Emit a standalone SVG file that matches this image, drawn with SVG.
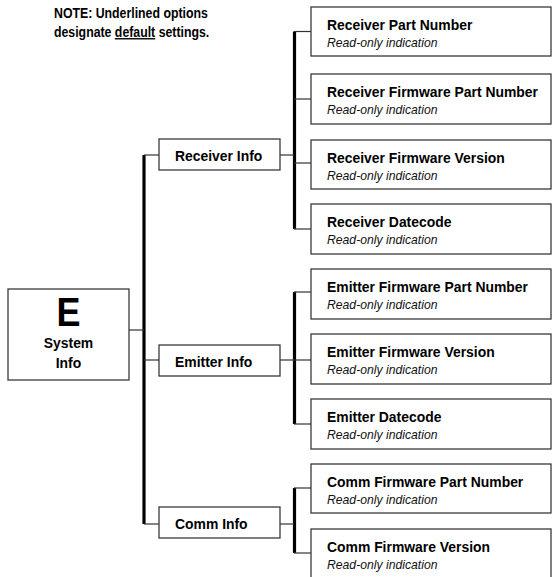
<svg xmlns="http://www.w3.org/2000/svg" width="555" height="577" viewBox="0 0 555 577">
<style>
.box{fill:#fff;stroke:#3a3a3a;stroke-width:1.3}
.bar{stroke:#000;stroke-width:3.2;fill:none}
.ln{stroke:#333;stroke-width:1.2;fill:none}
.b{font-family:"Liberation Sans",Arial,sans-serif;font-weight:bold;font-size:15.3px;fill:#000}
.i{font-family:"Liberation Sans",Arial,sans-serif;font-style:italic;font-size:12.2px;fill:#111}
.n{font-family:"Liberation Sans",Arial,sans-serif;font-weight:bold;font-size:14px;fill:#000}
.e{font-family:"Liberation Sans",Arial,sans-serif;font-weight:bold;font-size:40px;fill:#000}
</style>
<rect width="555" height="577" fill="#fff"/>
<g id="note">
<text class="n" transform="translate(54,18) scale(0.88,1)">NOTE: Underlined options</text>
<text class="n" transform="translate(54,37) scale(0.88,1)">designate <tspan text-decoration="underline">default</tspan> settings.</text>
</g>
<g id="connectors">
<line class="bar" x1="144" y1="155" x2="144" y2="524"/>
<line class="bar" x1="294.5" y1="31.5" x2="294.5" y2="229"/>
<line class="bar" x1="294.5" y1="292" x2="294.5" y2="424"/>
<line class="bar" x1="294.5" y1="488" x2="294.5" y2="553"/>
<line class="ln" x1="129" y1="330" x2="144" y2="330"/>
<line class="ln" x1="144" y1="155" x2="159" y2="155"/>
<line class="ln" x1="144" y1="360" x2="159" y2="360"/>
<line class="ln" x1="144" y1="524" x2="159" y2="524"/>
<line class="ln" x1="280" y1="155" x2="294" y2="155"/>
<line class="ln" x1="280" y1="360" x2="294" y2="360"/>
<line class="ln" x1="280" y1="524" x2="294" y2="524"/>
<line class="ln" x1="294" y1="31.5" x2="311" y2="31.5"/>
<line class="ln" x1="294" y1="99" x2="311" y2="99"/>
<line class="ln" x1="294" y1="163" x2="311" y2="163"/>
<line class="ln" x1="294" y1="229" x2="311" y2="229"/>
<line class="ln" x1="294" y1="292" x2="311" y2="292"/>
<line class="ln" x1="294" y1="360" x2="311" y2="360"/>
<line class="ln" x1="294" y1="424" x2="311" y2="424"/>
<line class="ln" x1="294" y1="488" x2="311" y2="488"/>
<line class="ln" x1="294" y1="553" x2="311" y2="553"/>
</g>
<g id="system-info">
<rect class="box" x="8" y="289" width="121" height="91"/>
<text class="e" text-anchor="middle" transform="translate(68.5,326) scale(0.9,1)">E</text>
<text class="b" text-anchor="middle" transform="translate(68.5,348) scale(0.91,1)">System</text>
<text class="b" text-anchor="middle" transform="translate(68.5,368) scale(0.91,1)">Info</text>
</g>
<g id="receiver-info">
<rect class="box" x="159" y="139" width="121" height="31"/>
<text class="b" transform="translate(175,161) scale(0.91,1)">Receiver Info</text>
</g>
<g id="emitter-info">
<rect class="box" x="159" y="345" width="121" height="31"/>
<text class="b" transform="translate(175,367) scale(0.91,1)">Emitter Info</text>
</g>
<g id="comm-info">
<rect class="box" x="159" y="507" width="121" height="31"/>
<text class="b" transform="translate(175,529) scale(0.91,1)">Comm Info</text>
</g>
<g id="receiver-part-number">
<rect class="box" x="311" y="7" width="240" height="49"/>
<text class="b" transform="translate(327,30) scale(0.91,1)">Receiver Part Number</text>
<text class="i" x="327" y="47">Read-only indication</text>
</g>
<g id="receiver-firmware-part-number">
<rect class="box" x="311" y="74" width="240" height="50"/>
<text class="b" transform="translate(327,97) scale(0.91,1)">Receiver Firmware Part Number</text>
<text class="i" x="327" y="114">Read-only indication</text>
</g>
<g id="receiver-firmware-version">
<rect class="box" x="311" y="140" width="240" height="49"/>
<text class="b" transform="translate(327,163) scale(0.91,1)">Receiver Firmware Version</text>
<text class="i" x="327" y="180">Read-only indication</text>
</g>
<g id="receiver-datecode">
<rect class="box" x="311" y="204" width="240" height="50"/>
<text class="b" transform="translate(327,227) scale(0.91,1)">Receiver Datecode</text>
<text class="i" x="327" y="244">Read-only indication</text>
</g>
<g id="emitter-firmware-part-number">
<rect class="box" x="311" y="269" width="240" height="50"/>
<text class="b" transform="translate(327,292) scale(0.91,1)">Emitter Firmware Part Number</text>
<text class="i" x="327" y="309">Read-only indication</text>
</g>
<g id="emitter-firmware-version">
<rect class="box" x="311" y="334" width="240" height="50"/>
<text class="b" transform="translate(327,357) scale(0.91,1)">Emitter Firmware Version</text>
<text class="i" x="327" y="374">Read-only indication</text>
</g>
<g id="emitter-datecode">
<rect class="box" x="311" y="399" width="240" height="50"/>
<text class="b" transform="translate(327,422) scale(0.91,1)">Emitter Datecode</text>
<text class="i" x="327" y="439">Read-only indication</text>
</g>
<g id="comm-firmware-part-number">
<rect class="box" x="311" y="464" width="240" height="49"/>
<text class="b" transform="translate(327,487) scale(0.91,1)">Comm Firmware Part Number</text>
<text class="i" x="327" y="504">Read-only indication</text>
</g>
<g id="comm-firmware-version">
<rect class="box" x="311" y="529" width="240" height="60"/>
<text class="b" transform="translate(327,552) scale(0.91,1)">Comm Firmware Version</text>
<text class="i" x="327" y="569">Read-only indication</text>
</g>
</svg>
